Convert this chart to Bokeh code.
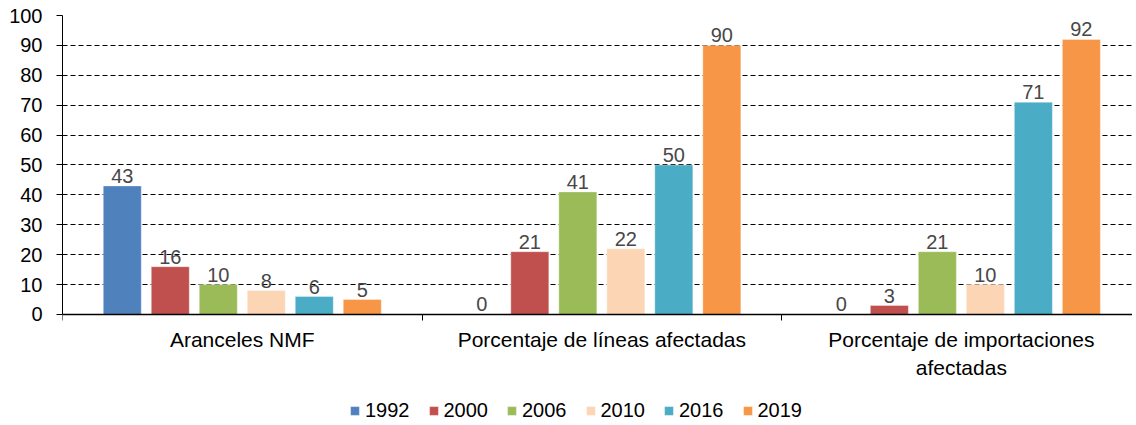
from bokeh.plotting import figure
from bokeh.models import ColumnDataSource, FixedTicker, Legend, LegendItem, Range1d
from bokeh.core.properties import value
from bokeh.embed import file_html
from bokeh.resources import INLINE

categories = ["Aranceles NMF", "Porcentaje de líneas afectadas", "Porcentaje de importaciones\nafectadas"]
years = ["1992", "2000", "2006", "2010", "2016", "2019"]
colors = ["#4F81BD", "#C0504D", "#9BBB59", "#FCD5B5", "#4BACC6", "#F79646"]
v1992 = [43, 0, 0]
v2000 = [16, 21, 3]
v2006 = [10, 41, 21]
v2010 = [8, 22, 10]
v2016 = [6, 50, 71]
v2019 = [5, 90, 92]
series = [v1992, v2000, v2006, v2010, v2016, v2019]

FONT = "Liberation Sans"
step = 0.1335
bw = 0.1057

p = figure(frame_width=1070, frame_height=408, output_backend="svg", toolbar_location=None,
           x_range=Range1d(0, 2.976), y_range=Range1d(-36.455, 100),
           min_border_left=62, min_border_right=0, min_border_top=15, min_border_bottom=0)
p.outline_line_color = None
p.background_fill_color = "white"

items = []
for j, (yr, col, vals) in enumerate(zip(years, colors, series)):
    xs = [i + 0.5 + (j - 2.5) * step for i in range(len(categories))]
    src = ColumnDataSource(dict(x=xs, top=vals, label=[str(v) for v in vals]))
    r = p.vbar(x="x", top="top", width=bw, source=src, fill_color=col,
               line_color="white", line_alpha=0.35, line_width=1)
    p.text(x="x", y="top", text="label", source=src, text_font=value(FONT),
           text_font_size="20px", text_color="#474747", text_align="center",
           text_baseline="bottom", y_offset=-3)
    items.append(LegendItem(label=yr, renderers=[r]))

# y axis
ya = p.yaxis[0]
ya.ticker = FixedTicker(ticks=list(range(0, 101, 10)), minor_ticks=[])
ya.bounds = (0, 100)
ya.axis_line_color = "black"
ya.major_tick_line_color = "black"
ya.major_tick_out = 6
ya.major_tick_in = 0
ya.minor_tick_line_color = None
ya.major_label_standoff = 14
ya.major_label_text_font = FONT
ya.major_label_text_font_size = "20px"
ya.major_label_text_color = "#000000"

# x axis
xa = p.xaxis[0]
xa.fixed_location = 0
xa.ticker = FixedTicker(ticks=[0.5, 1.5, 2.5], minor_ticks=[0, 1, 2, 3])
xa.major_label_overrides = {0.5: categories[0], 1.5: categories[1], 2.5: categories[2]}
xa.axis_line_color = "black"
xa.axis_line_width = 1.3
xa.major_tick_line_color = None
xa.major_tick_out = 0
xa.major_tick_in = 0
xa.minor_tick_line_color = "black"
xa.minor_tick_out = 6
xa.minor_tick_in = 0
xa.major_label_standoff = 8
xa.major_label_text_font = FONT
xa.major_label_text_font_size = "21px"
xa.major_label_text_color = "#000000"

p.xgrid.grid_line_color = None
p.ygrid.ticker = FixedTicker(ticks=list(range(10, 101, 10)))
p.ygrid.grid_line_color = "black"
p.ygrid.grid_line_dash = "5 3"
p.ygrid.grid_line_width = 1

legend = Legend(items=items, orientation="horizontal", location=(287, 1),
                label_text_font=FONT, label_text_font_size="20px", label_text_color="#000000",
                glyph_width=11, glyph_height=11, label_standoff=5, spacing=18,
                border_line_color=None, background_fill_alpha=0, padding=0, margin=0)
p.add_layout(legend)

open("out.html", "w").write(file_html(p, INLINE))
